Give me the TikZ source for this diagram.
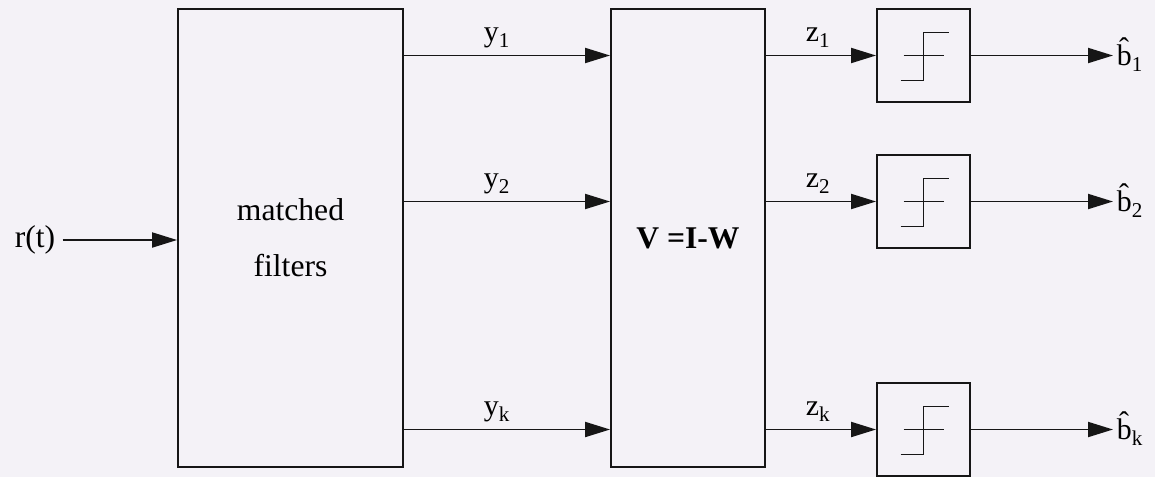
\documentclass[tikz,border=0pt]{standalone}
\usepackage{fontspec}
\setmainfont{Liberation Serif}
\usetikzlibrary{arrows.meta,positioning}
\definecolor{bgpaper}{RGB}{244,242,247}
\definecolor{ink}{RGB}{22,22,22}
\newcommand{\lbl}[2]{#1\raisebox{-3.5pt}{\fontsize{12}{14}\selectfont #2}}

\begin{document}
\begin{tikzpicture}[x=0.02cm, y=-0.02cm,
    block/.style={draw=ink, line width=1.1pt, inner sep=0pt},
    sig/.style={draw=ink, line width=1.1pt, -{Triangle[length=0.5cm,width=0.3cm]}},
    lab/.style={font=\fontsize{17}{20}\selectfont, inner sep=2pt}]
    % Background
    \fill[bgpaper] (0,0) rectangle (1155,477);
    \useasboundingbox (0,0) rectangle (1155,477);

    % Blocks
    \node[block, minimum width=4.5cm, minimum height=9.16cm, align=center,
      font=\fontsize{18}{32}\selectfont] (mf) at (290.5,238) {matched\\filters};
    \node[block, minimum width=3.08cm, minimum height=9.16cm,
      font=\fontsize{18}{22}\selectfont\bfseries] (V) at (688,238) {V =I-W};

    % Decision devices
    \node[block, minimum size=1.86cm] (q1) at (923.5,55.5) {};
    \node[block, minimum size=1.86cm] (q2) at (923.5,201.5) {};
    \node[block, minimum size=1.86cm] (qk) at (923.5,429.5) {};
    \foreach \q in {q1,q2,qk} {
      \draw[ink, line width=1.1pt] ([shift={(-20,0)}]\q.center) -- ++(40,0);
      \draw[ink, line width=1.1pt] ([shift={(-23,25)}]\q.center) -- ++(23,0) -- ++(0,-48) -- ++(25,0);
    }

    % Input
    \node[font=\fontsize{18}{22}\selectfont, inner sep=4pt] (r) at (35,240) {r(t)};
    \draw[sig] (r.east) -- (r.east -| mf.west);

    % Outputs
    \node[lab, anchor=base west] (b1) at (1113,65) {\lbl{\^{b}}{1}};
    \node[lab, anchor=base west] (b2) at (1113,211) {\lbl{\^{b}}{2}};
    \node[lab, anchor=base west] (bk) at (1113,439) {\lbl{\^{b}}{k}};

    % Signals
    \foreach \q/\s in {q1/1, q2/2, qk/k} {
      \draw[sig] (\q -| mf.east) -- node[lab, above=2pt, pos=0.45] {\lbl{y}{\s}} (\q -| V.west);
      \draw[sig] (\q -| V.east) -- node[lab, above=2pt, pos=0.47] {\lbl{z}{\s}} (\q.west);
      \draw[sig] (\q.east) -- (\q.east -| b\s.west);
    }
\end{tikzpicture}
\end{document}
